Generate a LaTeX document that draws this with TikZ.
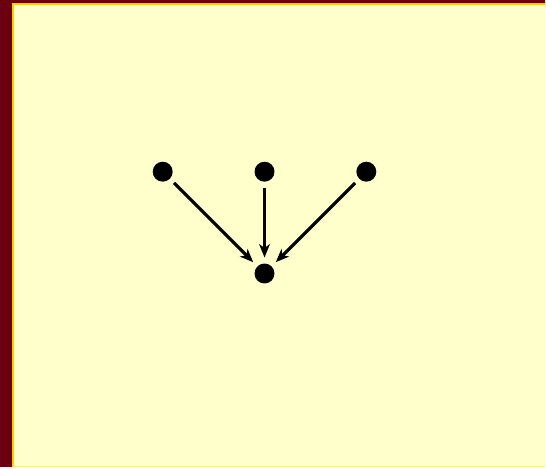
\documentclass[tikz,border=0pt]{standalone}
\usepackage{xcolor}
\usepackage{tikz}
\usetikzlibrary{arrows.meta,positioning}

\definecolor{frameRed}{HTML}{6B0010}
\definecolor{paneYellow}{HTML}{FFFFCC}
\definecolor{edgeGold}{HTML}{FFCC00}

\begin{document}
\begin{tikzpicture}[
    x=0.75pt, y=-0.75pt,
    node distance=76.5pt and 76.5pt,
    on grid,
    dot/.style={circle, fill=black, minimum size=15pt, inner sep=0pt, outer sep=4.5pt},
    arrow/.style={-{Stealth[length=10pt, width=8pt, inset=2.8pt]}, draw=black, line width=2.4pt}
]
    % Background frame
    \fill[frameRed] (0,0) rectangle (546,468);
    \fill[paneYellow] (13,4) rectangle (546,468);
    \draw[edgeGold, line width=1.5pt] (13,468) -- (13,4) -- (546,4);
    \draw[edgeGold!40!paneYellow, line width=0.8pt] (13,467.5) -- (546,467.5);
    \useasboundingbox (0,0) rectangle (546,468);

    % Node layout
    \node[dot] (mid) at (265,172) {};
    \node[dot, left=of mid] (left) {};
    \node[dot, right=of mid] (right) {};
    \node[dot, below=of mid] (sink) {};

    % Connections
    \draw[arrow] (left) -- (sink);
    \draw[arrow] (mid) -- (sink);
    \draw[arrow] (right) -- (sink);
\end{tikzpicture}
\end{document}
